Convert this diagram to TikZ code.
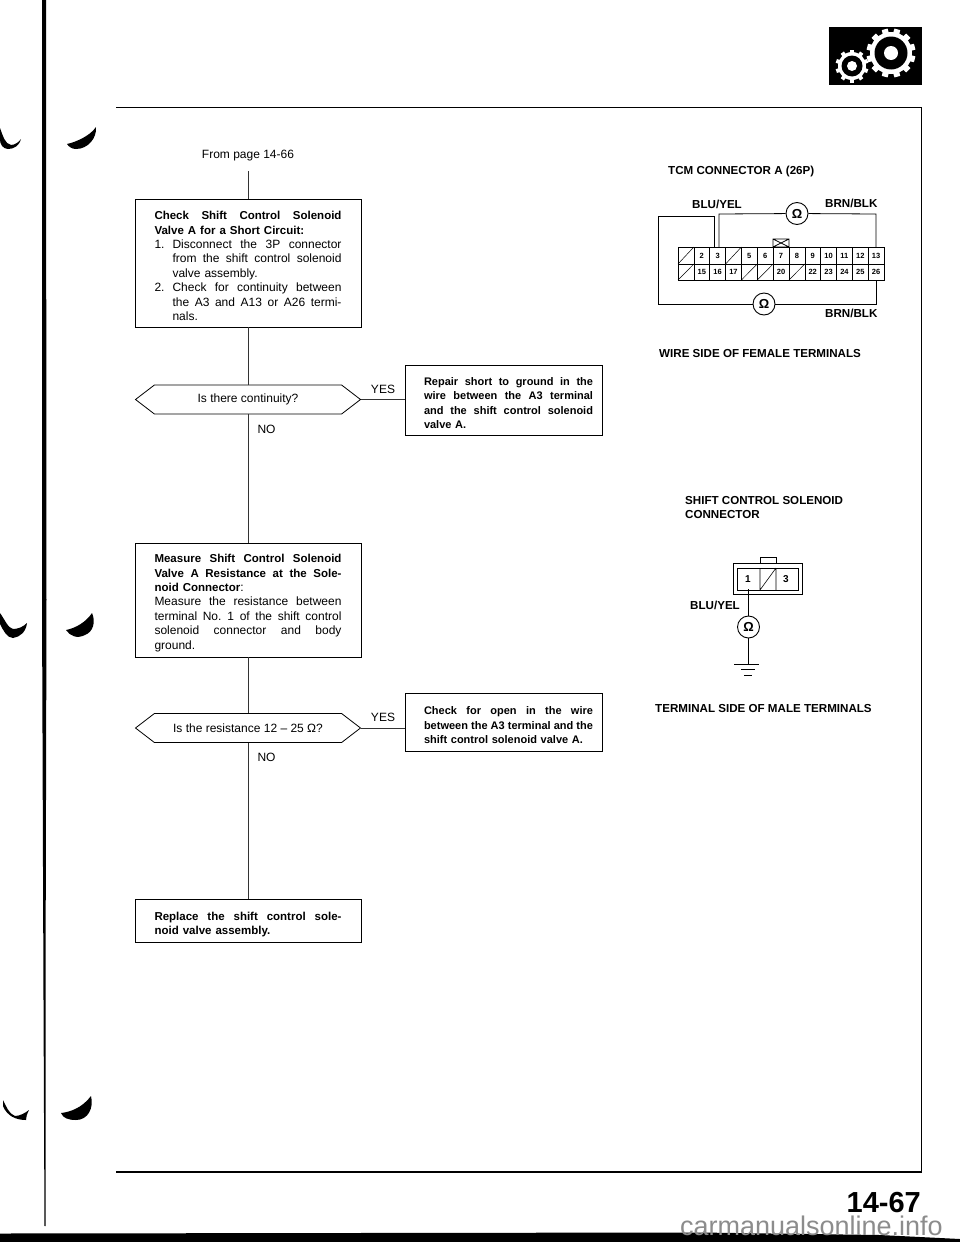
\documentclass[tikz,border=0pt]{standalone}
\usepackage{fontspec}
\setmainfont{Liberation Sans}
\usetikzlibrary{shapes.symbols}
\newlength{\jw}\setlength{\jw}{187pt}
\newcommand{\bfs}{\fontsize{11.5}{14.4}\selectfont\bfseries}
\newcommand{\stretchy}{\spaceskip=.25em plus 1fil minus .1em\relax}
\newcommand{\jl}[1]{\hbox to \jw{\stretchy #1}}
\newcommand{\nl}[2]{\hbox to \jw{\stretchy\hbox to 18pt{#1\hfil}#2}}
\newcommand{\il}[1]{\hbox to \jw{\stretchy\hskip18pt #1}}
\newcommand{\pl}[1]{\hbox{#1}}
\newcommand{\sfs}{\fontsize{11}{14.3}\selectfont\bfseries}
\newcommand{\sj}[1]{\moveright19pt\hbox to 169pt{\stretchy\sfs #1}}
\newcommand{\splain}[1]{\moveright19pt\hbox{\sfs #1}}
\tikzset{
  page/.style={x=1pt,y=-1pt,line cap=butt},
  flowbox/.style={draw,line width=.9pt,rectangle,inner sep=0pt,text width=187pt,font=\fontsize{12}{14.4}\selectfont,minimum width=226pt,align=left},
  sidebox/.style={draw,line width=.9pt,rectangle,inner sep=0pt,text width=197pt,font=\fontsize{11}{14.3}\selectfont,minimum width=197pt,align=left},
  hexa/.style={draw,line width=.8pt,shape=signal,signal to=east and west,signal pointer angle=75,inner sep=0pt,minimum width=225pt,minimum height=29pt,font=\fontsize{12}{13}\selectfont},
  link/.style={draw,line width=.8pt,black!80},
  plain/.style={inner sep=0pt,font=\fontsize{12}{13}\selectfont},
  wlabel/.style={inner sep=0pt,font=\fontsize{11.6}{13}\selectfont\bfseries,anchor=west},
  meter/.style={draw,circle,line width=.9pt,fill=white,minimum size=22pt,inner sep=0pt,font=\fontsize{13}{13}\selectfont\bfseries},
  wire/.style={draw,line width=.8pt},
  num/.style={inner sep=0pt,font=\fontsize{7.5}{8}\selectfont\bfseries},
  cell/.style={draw,line width=.6pt},
  frame/.style={draw,line width=1.2pt},
}
\begin{document}
\begin{tikzpicture}[page]
\useasboundingbox (0,0) rectangle (960,1242);
% page furniture
\fill (42,0) -- (46,0) -- (46.5,600) -- (45.5,1000) -- (45.5,1226) -- (44.5,1226) -- (43.5,1000) -- (42,600) -- cycle;
\draw[frame] (116,107.5) -- (921.5,107.5) -- (921.5,1172) -- (116,1172);
\fill (0,1233.5) -- (350,1233) -- (700,1232.5) -- (880,1235) -- (960,1239) -- (960,1242) -- (0,1242) -- cycle;
\node[inner sep=0pt,anchor=base east,font=\fontsize{29}{29}\selectfont\bfseries] (pageno) at (921,1212.5) {14-67};
\node[inner sep=0pt,anchor=base east,text=black!45,font=\fontsize{27}{27}\selectfont] (mark) at (943,1235) {carmanualsonline.info};
% header icon
\fill (829,27) rectangle (922,85);
\foreach \a in {15,45,...,345}{\fill[white,rotate around={\a:(891,53)}] (887.5,53) -- (888,28.5) -- (894,28.5) -- (894.5,53) -- cycle;}
\fill[white] (891,53) circle (21);
\fill[black] (891,53) circle (16.5);
\fill[white] (891,53) circle (7);
\foreach \a in {0,36,...,324}{\fill[white,rotate around={\a:(852,66)}] (850,66) -- (850,49.5) -- (854,49.5) -- (854,66) -- cycle;}
\fill[white] (852,66) circle (14);
\fill[black] (852,66) circle (10.5);
\fill[white] (852,66) circle (5);
% margin marks
\fill (0,128) .. controls (3,136) and (5,144) .. (11,145) .. controls (15,145) and (19,142) .. (21,139) .. controls (19,146) and (14,149) .. (8,149) .. controls (3,149) and (0,144) .. (0,140) -- cycle;
\fill (67,144) .. controls (76,142) and (90,136) .. (96,127) .. controls (97,138) and (88,149) .. (76,149) .. controls (72,149) and (69,147) .. (67,144) -- cycle;
\fill (0,613) .. controls (5,620) and (8,628) .. (13,629) .. controls (18,629) and (23,627) .. (27,623) .. controls (26,632) and (20,637) .. (13,638) .. controls (7,638) and (3,630) .. (0,624) -- cycle;
\fill (66,630) .. controls (76,628) and (86,622) .. (92,613) .. controls (96,622) and (93,632) .. (85,635) .. controls (77,639) and (70,636) .. (66,630) -- cycle;
\fill (3,1100) .. controls (6,1106) and (9,1114) .. (15,1116) .. controls (20,1116) and (25,1113) .. (29,1110) .. controls (27,1114) and (26,1117) .. (26,1120) .. controls (16,1120) and (7,1116) .. (3,1106) -- cycle;
\fill (61,1113) .. controls (70,1112) and (82,1108) .. (91,1096) .. controls (94,1108) and (88,1120) .. (76,1120) .. controls (68,1120) and (63,1118) .. (61,1113) -- cycle;
% flowchart
\node[plain] (from) at (248,156) {From page 14-66};
\coordinate (start) at (248,171);
\node[flowbox,minimum height=128pt] (b1) at (248,263) {\vskip0pt
\jl{\bfs Check Shift Control Solenoid}
\pl{\bfs Valve A for a Short Circuit:}
\nl{1.}{Disconnect the 3P connector}
\il{from the shift control solenoid}
\pl{\hskip18pt valve assembly.}
\nl{2.}{Check for continuity between}
\il{the A3 and A13 or A26 termi-}
\pl{\hskip18pt nals.}};
\node[hexa] (q1) at (248,399.5) {\raisebox{-1pt}{Is there continuity?}};
\node[sidebox,minimum height=70pt] (r1) at (503.5,400) {\vskip0pt
\sj{Repair short to ground in the}
\sj{wire between the A3 terminal}
\sj{and the shift control solenoid}
\splain{valve A.}};
\node[flowbox,minimum height=114pt] (b2) at (248,600) {\vskip0pt
\jl{\bfs Measure Shift Control Solenoid}
\jl{\bfs Valve A Resistance at the Sole-}
\pl{{\bfs noid Connector}:}
\jl{Measure the resistance between}
\jl{terminal No. 1 of the shift control}
\jl{solenoid connector and body}
\pl{ground.}};
\node[hexa] (q2) at (248,728) {\raisebox{-1pt}{Is the resistance 12 – 25 Ω?}};
\node[sidebox,minimum height=58pt] (r2) at (503.5,722) {\vskip0pt
\sj{Check for open in the wire}
\sj{between the A3 terminal and the}
\splain{shift control solenoid valve A.}};
\node[flowbox,minimum height=43pt] (b3) at (248,920.5) {\vskip2pt
\jl{\bfs Replace the shift control sole-}
\pl{\bfs noid valve assembly.}};
\path[link] (start) -- (b1.north);
\path[link] (b1.south) -- (q1.north);
\path[link] (q1.south) -- (b2.north);
\path[link] (b2.south) -- (q2.north);
\path[link] (q2.south) -- (b3.north);
\path[link] (q1.east) -- (r1.west |- q1.east);
\path[link] (q2.east) -- (r2.west |- q2.east);
\node[plain] (y1) at (383,389) {YES};
\node[plain] (n1) at (266.5,429) {NO};
\node[plain] (y2) at (383,717) {YES};
\node[plain] (n2) at (266.5,757) {NO};
% TCM connector
\node[wlabel] (t1) at (668,171) {TCM CONNECTOR A (26P)};
\node[wlabel] (t2) at (692,204) {BLU/YEL};
\node[wlabel] (t3) at (825,203) {BRN/BLK};
\node[wlabel] (t4) at (825,313) {BRN/BLK};
\node[wlabel] (t5) at (659,354) {WIRE SIDE OF FEMALE TERMINALS};
\foreach \i/\t in {1/,2/2,3/3,4/,5/5,6/6,7/7,8/8,9/9,10/10,11/11,12/12,13/13}{
  \path[cell] ({678+(\i-1)*15.85},247) rectangle ({678+\i*15.85},264);
  \ifx\t\empty\draw[line width=.5pt] ({678+(\i-1)*15.85},264) -- ({678+\i*15.85},247);\else
  \node[num] at ({678+(\i-.5)*15.85},256) {\t};\fi
}
\foreach \i/\t in {1/,2/15,3/16,4/17,5/,6/,7/20,8/,9/22,10/23,11/24,12/25,13/26}{
  \path[cell] ({678+(\i-1)*15.85},264) rectangle ({678+\i*15.85},280);
  \ifx\t\empty\draw[line width=.5pt] ({678+(\i-1)*15.85},280) -- ({678+\i*15.85},264);\else
  \node[num] at ({678+(\i-.5)*15.85},272) {\t};\fi
}
\draw[line width=.7pt] (773,247) rectangle (789,239) (773,239) -- (789,247) (773,247) -- (789,239);
\node[meter] (m1) at (797,213.5) {Ω};
\node[meter] (m2) at (764,304) {Ω};
\coordinate (a3a) at (714,247);
\coordinate (a3b) at (719,247);
\coordinate (a13) at (876,247);
\coordinate (a26) at (876,280);
\coordinate (lc) at (658,216);
\path[wire] (a3a) -- (714,216) -- (lc) -- (658,304) -- (m2);
\path[wire] (m2) -- (876,304) -- (a26);
\path[wire] (a3b) -- (719,214) -- (m1);
\path[wire] (m1) -- (876,214) -- (a13);
% solenoid connector
\node[wlabel] (s1) at (685,501) {SHIFT CONTROL SOLENOID};
\node[wlabel] (s2) at (685,515) {CONNECTOR};
\node[wlabel] (s3) at (690,605) {BLU/YEL};
\node[wlabel] (s4) at (655,708) {TERMINAL SIDE OF MALE TERMINALS};
\draw[line width=.8pt] (733,563) rectangle (802,594);
\draw[line width=.7pt] (737,568) rectangle (798,590);
\draw[line width=.6pt] (760,563) -- (760,557) -- (776,557) -- (776,563);
\draw[line width=.6pt] (760,568) -- (760,590) (776,568) -- (776,590) (760,590) -- (776,568);
\node[inner sep=0pt,font=\fontsize{10}{10}\selectfont\bfseries] (p1) at (748,579) {1};
\node[inner sep=0pt,font=\fontsize{10}{10}\selectfont\bfseries] (p3) at (786,579) {3};
\node[meter] (m3) at (748.5,627) {Ω};
\coordinate (pin1) at (748.5,589);
\coordinate (gnd) at (748.5,664);
\path[wire] (pin1) -- (m3);
\path[wire] (m3) -- (gnd);
\draw[line width=.8pt] (734,664) -- (759,664) (741,669.5) -- (755,669.5) (744,675) -- (752,675);
\end{tikzpicture}
\end{document}
